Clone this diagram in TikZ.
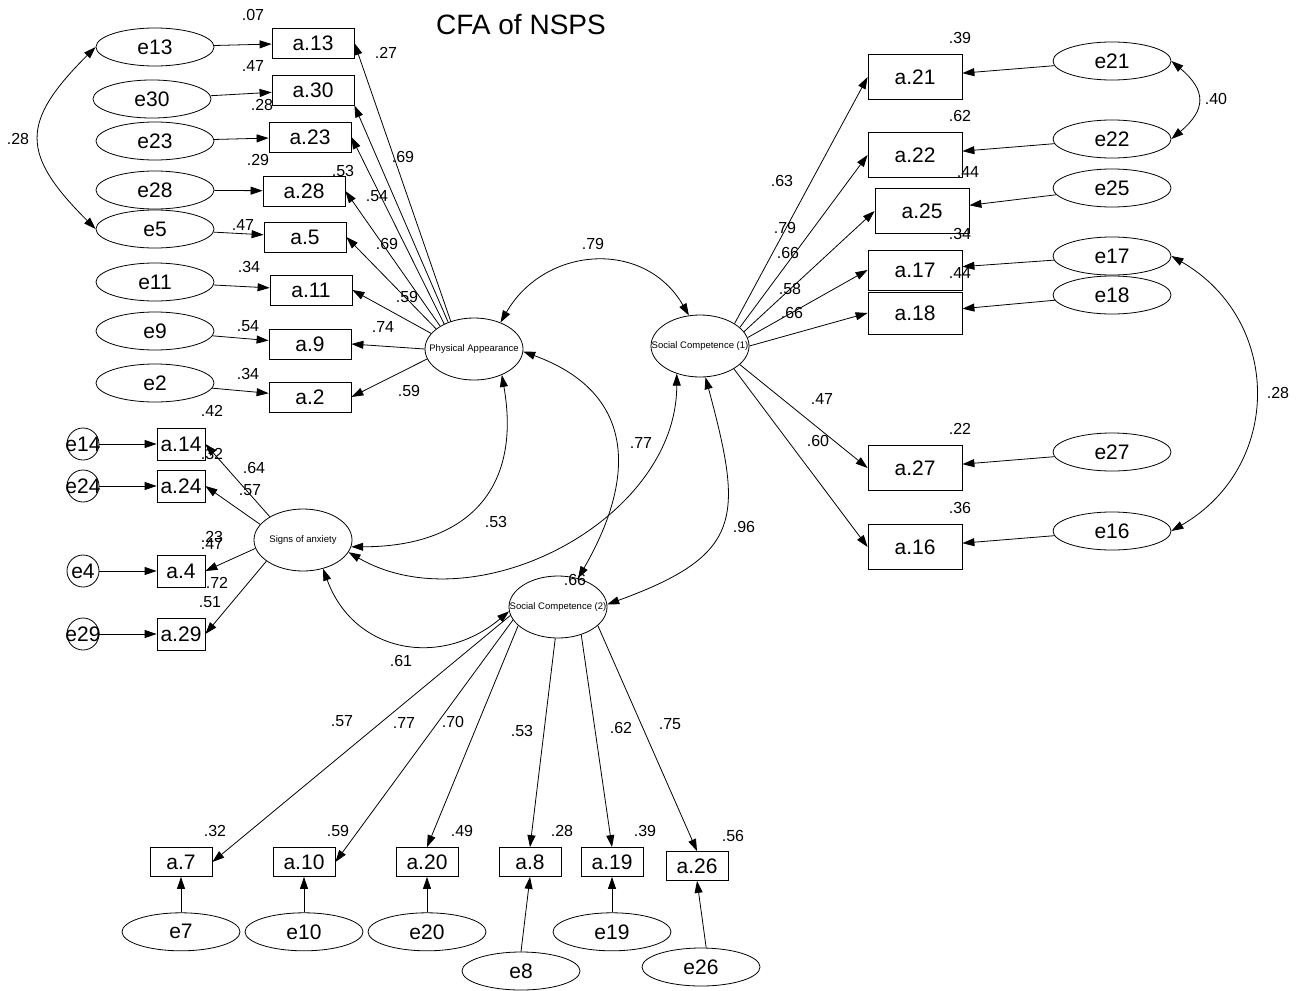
\documentclass[tikz,border=0pt]{standalone}
\usepackage{fontspec}
\setmainfont{Liberation Sans}
\usetikzlibrary{positioning}
\usetikzlibrary{shapes.geometric}
\usetikzlibrary{arrows.meta}
\tikzset{%
  load/.style = {-{Triangle[length=6pt,width=4pt]}},
  cov/.style = {{Triangle[length=6pt,width=4pt]}-{Triangle[length=6pt,width=4pt]}},
  obs/.style = {rectangle,draw,inner sep=0pt,minimum width=41pt,
        minimum height=15pt,font=\fontsize{10.5}{12}\selectfont},
  obsr/.style = {obs,minimum width=47pt,minimum height=22.5pt},
  obsa/.style = {obs,minimum width=24pt,minimum height=16pt},
  obsb/.style = {obs,minimum width=31pt,minimum height=14.5pt},
  err/.style = {ellipse,draw,inner sep=0pt,minimum width=59pt,
        minimum height=19pt,font=\fontsize{10.5}{12}\selectfont},
  errc/.style = {circle,draw,inner sep=0pt,minimum size=16pt,
        font=\fontsize{10.5}{12}\selectfont},
  lat/.style = {ellipse,draw,inner sep=0pt,minimum width=49pt,
        minimum height=31pt,font=\fontsize{4.75}{5}\selectfont},
  num/.style = {inner sep=0pt,font=\fontsize{8}{9}\selectfont}
}
\begin{document}
\begin{tikzpicture}[x=0.5pt,y=-0.5pt,node distance=17.75pt]
                    \useasboundingbox (0,0) rectangle (1299,990);
                    \node[font=\fontsize{14}{16}\selectfont] (title) at (521,25) {CFA of NSPS};

                    \node[lat] (pa) at (474,349) {\makebox[0pt]{Physical Appearance}};
                    \node[lat] (soa) at (303,540) {\makebox[0pt]{Signs of anxiety}};
                    \node[lat] (sc1) at (700,346) {\makebox[0pt]{Social Competence (1)}};
                    \node[lat] (sc2) at (558,607) {\makebox[0pt]{Social Competence (2)}};

                    \node[obs] (a13) at (313,43) {a.13};
                    \node[obs] (a30) at (313,90) {a.30};
                    \node[obs] (a23) at (310,137) {a.23};
                    \node[obs] (a28) at (304,191) {a.28};
                    \node[obs] (a5) at (305,237) {a.5};
                    \node[obs] (a11) at (311,290) {a.11};
                    \node[obs] (a9) at (310,344) {a.9};
                    \node[obs] (a2) at (310,397) {a.2};
                    \node[err] (e13) at (155,47) {e13};
                    \node[err] (e30) at (152,99) {e30};
                    \node[err] (e23) at (155,141) {e23};
                    \node[err] (e28) at (155,190) {e28};
                    \node[err] (e5) at (155,229) {e5};
                    \node[err] (e11) at (155,282) {e11};
                    \node[err] (e9) at (155,331) {e9};
                    \node[err] (e2) at (155,383) {e2};

                    \node[obsa] (a14) at (181,444) {a.14};
                    \node[obsa] (a24) at (181,486) {a.24};
                    \node[obsa] (a4) at (181,571) {a.4};
                    \node[obsa] (a29) at (181,634) {a.29};
                    \node[errc] (e14) at (83,444) {\makebox[0pt]{e14}};
                    \node[errc] (e24) at (83,486) {\makebox[0pt]{e24}};
                    \node[errc] (e4) at (83,571) {\makebox[0pt]{e4}};
                    \node[errc] (e29) at (83,634) {\makebox[0pt]{e29}};

                    \node[obsr] (a21) at (915,77) {a.21};
                    \node[obsr] (a22) at (915,155) {a.22};
                    \node[obsr] (a25) at (922,211) {a.25};
                    \node[obsr,minimum height=20pt] (a17) at (915,270) {a.17};
                    \node[obsr,minimum height=21pt] (a18) at (915,313) {a.18};
                    \node[obsr] (a27) at (915,468) {a.27};
                    \node[obsr] (a16) at (915,547) {a.16};
                    \node[err] (e21) at (1112,61) {e21};
                    \node[err] (e22) at (1112,139) {e22};
                    \node[err] (e25) at (1112,188) {e25};
                    \node[err] (e17) at (1112,256) {e17};
                    \node[err] (e18) at (1112,295) {e18};
                    \node[err] (e27) at (1112,452) {e27};
                    \node[err] (e16) at (1112,531) {e16};

                    \node[obsb] (a7) at (181,862) {a.7};
                    \node[obsb] (a10) at (304,862) {a.10};
                    \node[obsb] (a20) at (427,862) {a.20};
                    \node[obsb] (a8) at (530,862) {a.8};
                    \node[obsb] (a19) at (612,862) {a.19};
                    \node[obsb] (a26) at (697,866) {a.26};
                    \node[err] (e7) [below=of a7] {e7};
                    \node[err] (e10) [below=of a10] {e10};
                    \node[err] (e20) [below=of a20] {e20};
                    \node[err] (e8) at (521,971) {e8};
                    \node[err] (e19) [below=of a19] {e19};
                    \node[err] (e26) at (701,967) {e26};

                    \node[num] (r13) at (253,15) {.07};
                    \node[num] (r30) at (253,66) {.47};
                    \node[num] (r23) at (262,105) {.28};
                    \node[num] (r28) at (258,160) {.29};
                    \node[num] (r5) at (243,225) {.47};
                    \node[num] (r11) at (249,267) {.34};
                    \node[num] (r9) at (248,326) {.54};
                    \node[num] (r2) at (248,374) {.34};
                    \node[num] (w13) at (386,53) {.27};
                    \node[num] (w30) at (403,157) {.69};
                    \node[num] (w23) at (343,171) {.53};
                    \node[num] (w28) at (377,196) {.54};
                    \node[num] (w5) at (387,244) {.69};
                    \node[num] (w11) at (407,297) {.59};
                    \node[num] (w9) at (383,327) {.74};
                    \node[num] (w2) at (409,391) {.59};
                    \node[num] (c9) at (18,139) {.28};

                    \node[num] (r14) at (212,411) {.42};
                    \node[num] (r24) at (212,454) {.32};
                    \node[num] (w14) at (254,468) {.64};
                    \node[num] (w24) at (250,490) {.57};
                    \node[num] (r4) at (212,537) {.23};
                    \node[num] (r29) at (212,544) {.47};
                    \node[num] (w4) at (217,583) {.72};
                    \node[num] (w29) at (210,602) {.51};

                    \node[num] (c1) at (593,244) {.79};
                    \node[num] (c2) at (641,443) {.77};
                    \node[num] (c3) at (496,522) {.53};
                    \node[num] (c4) at (744,527) {.96};
                    \node[num] (c6) at (575,580) {.66};
                    \node[num] (c5) at (401,661) {.61};

                    \node[num] (r21) at (960,38) {.39};
                    \node[num] (r22) at (960,116) {.62};
                    \node[num] (r25) at (968,172) {.44};
                    \node[num] (r17) at (960,234) {.34};
                    \node[num] (r18) at (960,273) {.44};
                    \node[num] (r27) at (960,429) {.22};
                    \node[num] (r16) at (960,508) {.36};
                    \node[num] (c7) at (1216,99) {.40};
                    \node[num] (c8) at (1278,393) {.28};
                    \node[num] (w21) at (782,181) {.63};
                    \node[num] (w22) at (785,228) {.79};
                    \node[num] (w25) at (788,253) {.66};
                    \node[num] (w17) at (790,289) {.58};
                    \node[num] (w18) at (792,313) {.66};
                    \node[num] (w27) at (822,399) {.47};
                    \node[num] (w16) at (818,441) {.60};

                    \node[num] (w7) at (342,721) {.57};
                    \node[num] (w10) at (404,723) {.77};
                    \node[num] (w20) at (453,722) {.70};
                    \node[num] (w8) at (522,731) {.53};
                    \node[num] (w19) at (621,728) {.62};
                    \node[num] (w26) at (670,724) {.75};
                    \node[num] (r7) at (215,831) {.32};
                    \node[num] (r10) at (338,831) {.59};
                    \node[num] (r20) at (462,831) {.49};
                    \node[num] (r8) at (562,831) {.28};
                    \node[num] (r19) at (645,831) {.39};
                    \node[num] (r26) at (733,836) {.56};

                    \draw[load] (pa.130) -- (a13.east);
                    \draw[load] (pa.134) -- (a30.south east);
                    \draw[load] (pa.140) -- (a23.east);
                    \draw[load] (pa.146) -- (a28.east);
                    \draw[load] (pa.152) -- (a5.east);
                    \draw[load] (pa.160) -- (a11.east);
                    \draw[load] (pa.180) -- (a9.east);
                    \draw[load] (pa.192) -- (a2.east);
                    \draw[load] (e13) -- (a13);
                    \draw[load] (e30) -- (a30);
                    \draw[load] (e23) -- (a23);
                    \draw[load] (e28) -- (a28);
                    \draw[load] (e5) -- (a5);
                    \draw[load] (e11) -- (a11);
                    \draw[load] (e9) -- (a9);
                    \draw[load] (e2) -- (a2);

                    \draw[load] (soa.145) -- (a14.east);
                    \draw[load] (soa.160) -- (a24.east);
                    \draw[load] (soa.190) -- (a4.east);
                    \draw[load] (soa.210) -- (a29.east);
                    \draw[load] (e14) -- (a14);
                    \draw[load] (e24) -- (a24);
                    \draw[load] (e4) -- (a4);
                    \draw[load] (e29) -- (a29);

                    \draw[load] (sc1.33) -- (a21.west);
                    \draw[load] (sc1.25) -- (a22.west);
                    \draw[load] (sc1.18) -- (a25.west);
                    \draw[load] (sc1.10) -- (a17.west);
                    \draw[load] (sc1.0) -- (a18.west);
                    \draw[load] (sc1.-25) -- (a27.west);
                    \draw[load] (sc1.-34) -- (a16.west);
                    \draw[load] (e21) -- (a21);
                    \draw[load] (e22) -- (a22);
                    \draw[load] (e25) -- (a25);
                    \draw[load] (e17) -- (a17);
                    \draw[load] (e18) -- (a18);
                    \draw[load] (e27) -- (a27);
                    \draw[load] (e16) -- (a16);

                    \draw[load] (sc2.190) -- (a7.east);
                    \draw[load] (sc2.196) -- (a10.east);
                    \draw[load] (sc2.205) -- (a20.north);
                    \draw[load] (sc2.265) -- (a8.north);
                    \draw[load] (sc2.310) -- (a19.north);
                    \draw[load] (sc2.335) -- (a26.north);
                    \draw[load] (e7) -- (a7);
                    \draw[load] (e10) -- (a10);
                    \draw[load] (e20) -- (a20);
                    \draw[load] (e8.north) -- (a8.south);
                    \draw[load] (e19) -- (a19);
                    \draw[load] (e26.75) -- (a26.south);

                    \draw[cov] (e13.west) to[out=-135,in=135,looseness=1.5] (e5.west);
                    \draw[cov] (e21.east) to[out=-40,in=40,looseness=1.5] (e22.east);
                    \draw[cov] (e17.east) to[out=-30,in=30,looseness=1.2] (e16.east);
                    \draw[cov] (pa.45) to[out=60,in=120,looseness=1.2] (sc1.110);
                    \draw[cov] (pa.-43) to[out=-80,in=0,looseness=1.3] (soa.-8);
                    \draw[cov] (sc1.-130) to[out=-90,in=-30] (soa.-15);
                    \draw[cov] (pa.-3) to[out=-20,in=60,looseness=1.3] (sc2.55);
                    \draw[cov] (sc1.-80) to[out=-75,in=20,looseness=1.5] (sc2.3);
                    \draw[cov] (soa.-55) to[out=-70,in=-140,looseness=1.2] (sc2.185);
                 \end{tikzpicture}
\end{document}
